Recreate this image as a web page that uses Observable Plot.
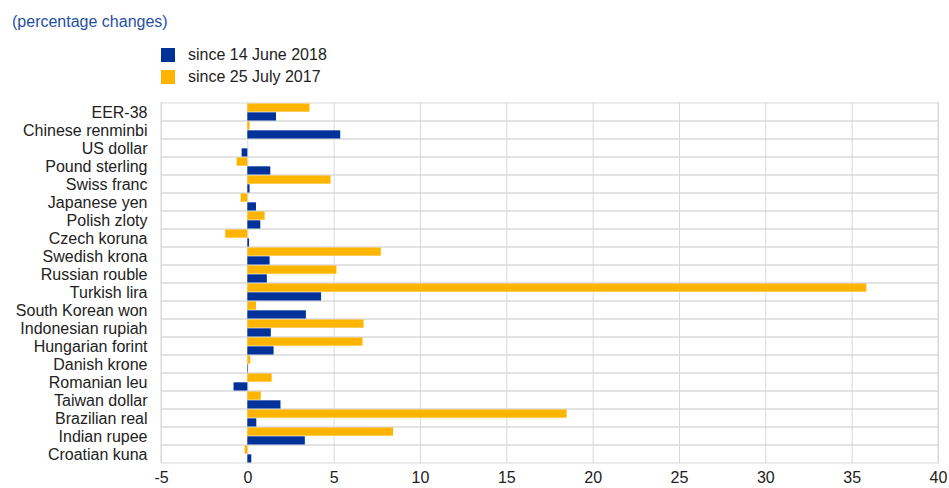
<!DOCTYPE html>
<html>
<head>
<meta charset="utf-8">
<script src="https://cdn.jsdelivr.net/npm/d3@7"></script>
<script src="https://cdn.jsdelivr.net/npm/@observablehq/plot@0.6"></script>
<style>
  body { margin: 0; background: #fff; font-family: "Liberation Sans", Arial, sans-serif; }
  #wrap { position: relative; width: 949px; height: 488px; }
  #title { position: absolute; left: 12px; top: 13px; font-size: 16px; color: #1f4fa3; }
  .leg { position: absolute; left: 161px; font-size: 16px; color: #222; display: flex; align-items: center; }
  .sw { width: 14px; height: 14px; margin-right: 13px; }
  #chart { position: absolute; left: 0; top: 92px; }
</style>
</head>
<body>
<div id="wrap">
  <div id="title">(percentage changes)</div>
  <div class="leg" id="leg1" style="top:46px"><span class="sw" style="background:#003299"></span>since 14 June 2018</div>
  <div class="leg" id="leg2" style="top:68px"><span class="sw" style="background:#ffb400"></span>since 25 July 2017</div>
  <div id="chart"></div>
</div>
<script>
const categories = ["EER-38","Chinese renminbi","US dollar","Pound sterling","Swiss franc","Japanese yen","Polish zloty","Czech koruna","Swedish krona","Russian rouble","Turkish lira","South Korean won","Indonesian rupiah","Hungarian forint","Danish krone","Romanian leu","Taiwan dollar","Brazilian real","Indian rupee","Croatian kuna"];
const since2018 = [1.66, 5.38, -0.33, 1.33, 0.13, 0.5, 0.75, 0.1, 1.29, 1.13, 4.27, 3.39, 1.36, 1.52, 0.03, -0.8, 1.92, 0.52, 3.33, 0.23];
const since2017 = [3.6, 0.13, 0, -0.62, 4.82, -0.39, 1.0, -1.28, 7.73, 5.16, 35.85, 0.5, 6.73, 6.67, 0.17, 1.41, 0.78, 18.49, 8.44, -0.16];
const xTicks = [-5, 0, 5, 10, 15, 20, 25, 30, 35, 40];
const seriesNames = ["since 14 June 2018", "since 25 July 2017"];
const seriesColors = ["#003299", "#ffb400"];

const W = 949, H = 396, mt = 10, mb = 25, ml = 161, mr = 11;
const half = (H - mt - mb) / categories.length / 2;

const d18 = categories.map((c, i) => ({cat: c, v: since2018[i]}));
const d17 = categories.map((c, i) => ({cat: c, v: since2017[i]}));

const chart = Plot.plot({
  width: W, height: H,
  marginTop: mt, marginBottom: mb, marginLeft: ml, marginRight: mr,
  style: {fontFamily: '"Liberation Sans", Arial, sans-serif', fontSize: "16px", color: "#222", background: "#fff"},
  x: {domain: [xTicks[0], xTicks[xTicks.length - 1]], ticks: xTicks, tickSize: 0, tickPadding: 8, label: null, tickFormat: d => String(d)},
  y: {domain: categories, padding: 0, tickSize: 0, tickPadding: 14, label: null},
  marks: [
    Plot.ruleX(xTicks, {stroke: "#d9d9d9", strokeWidth: 1}),
    Plot.barX(categories, {y: d => d, x1: xTicks[0], x2: xTicks[xTicks.length - 1], fill: "none", stroke: "#d9d9d9", strokeWidth: 1}),
    Plot.barX(d17, {y: "cat", x: "v", fill: seriesColors[1], insetTop: 0.5, insetBottom: half + 0.3}),
    Plot.barX(d18, {y: "cat", x: "v", fill: seriesColors[0], insetTop: half + 0.3, insetBottom: 0.5})
  ]
});
document.getElementById("chart").appendChild(chart);
</script>
</body>
</html>
